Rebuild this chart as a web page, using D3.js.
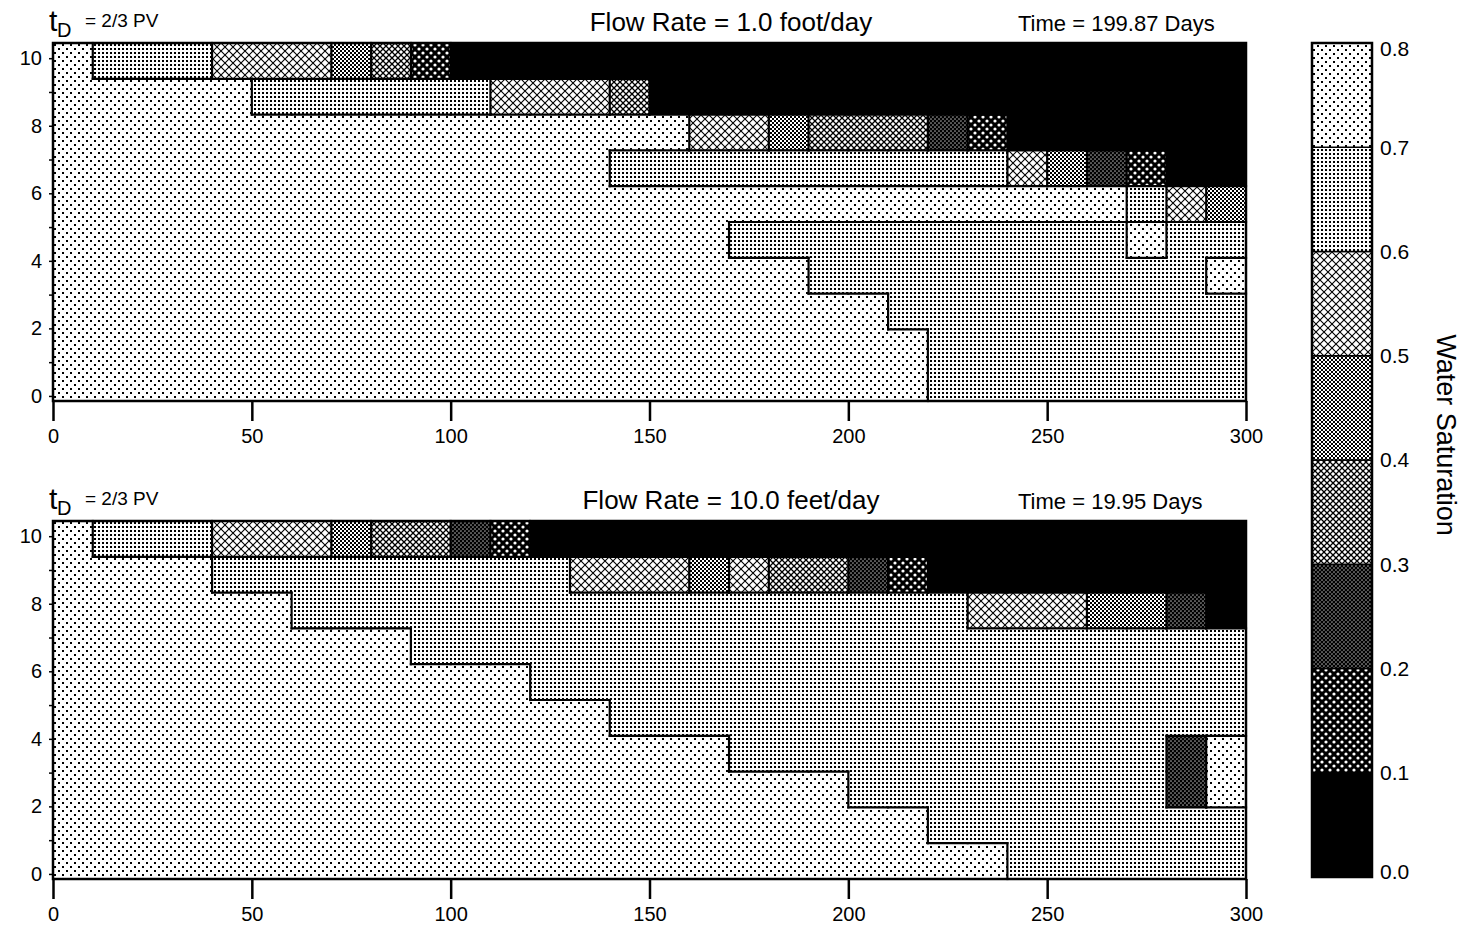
<!DOCTYPE html>
<html>
<head>
<meta charset="utf-8">
<script src="https://cdn.jsdelivr.net/npm/d3@7"></script>
<style>
body { margin: 0; background: #fff; }
text { font-family: "Liberation Sans", Arial, Helvetica, sans-serif; fill: #000; }
</style>
</head>
<body>
<svg width="1466" height="926"></svg>
<script>
// water saturation class of each block: 0 = 0.0-0.1, 1 = 0.1-0.2 ... 7 = 0.7-0.8
// one string per layer (layer 10 first), one char per 10 ft column
var gridSlow = [
  "766655543100000000000000000000",
  "777776666665553000000000000000",
  "777777777777777755433321000000",
  "777777777777776666666666542100",
  "777777777777777777777777777654",
  "777777777777777776666666666766",
  "777777777777777777766666666667",
  "777777777777777777777666666666",
  "777777777777777777777766666666",
  "777777777777777777777766666666"
];
var gridFast = [
  "766655543321000000000000000000",
  "777766666666655545332100000000",
  "777777666666666666666665554420",
  "777777777666666666666666666666",
  "777777777777666666666666666666",
  "777777777777776666666666666666",
  "777777777777777776666666666627",
  "777777777777777777776666666627",
  "777777777777777777777766666666",
  "777777777777777777777777666666"
];
var flowLabels = ["Flow Rate = 1.0 foot/day", "Flow Rate = 10.0 feet/day"];
var timeLabels = ["Time = 199.87 Days", "Time = 19.95 Days"];
var xTicks = [0, 50, 100, 150, 200, 250, 300];
var yTicks = [0, 1, 2, 3, 4, 5, 6, 7, 8, 9, 10];
var legendTicks = [0.0, 0.1, 0.2, 0.3, 0.4, 0.5, 0.6, 0.7, 0.8];

var svg = d3.select("svg");
var defs = svg.append("defs");

function addPattern(id, size, bg, draw) {
  var p = defs.append("pattern")
      .attr("id", id)
      .attr("patternUnits", "userSpaceOnUse")
      .attr("width", size)
      .attr("height", size);
  p.append("rect").attr("width", size).attr("height", size).attr("fill", bg);
  if (draw) draw(p, size);
}
function cross(p, s, sw) {
  p.append("path")
      .attr("d", "M0,0L" + s + "," + s + "M0," + s + "L" + s + ",0")
      .attr("stroke", "#000").attr("stroke-width", sw);
}
function dot(p, cx, cy, sz, col) {
  p.append("rect").attr("x", cx).attr("y", cy).attr("width", sz).attr("height", sz)
      .attr("fill", col).attr("shape-rendering", "crispEdges");
}

addPattern("sat0", 4, "#000");
addPattern("sat1", 8, "#000", function(p) {
  p.append("circle").attr("cx", 2).attr("cy", 2).attr("r", 1.6).attr("fill", "#fff");
  p.append("circle").attr("cx", 6).attr("cy", 6).attr("r", 1.6).attr("fill", "#fff");
});
addPattern("sat2", 4, "#fff", function(p, s) { cross(p, s, 1.6); });
addPattern("sat3", 6, "#fff", function(p, s) {
  cross(p, s, 1.3);
  p.append("circle").attr("cx", 3).attr("cy", 3).attr("r", 0.8).attr("fill", "#000");
});
addPattern("sat4", 4, "#fff", function(p, s) { cross(p, s, 1.0); });
addPattern("sat5", 8, "#fff", function(p, s) { cross(p, s, 1.1); });
addPattern("sat6", 4, "#fff", function(p) { dot(p, 1, 1, 2, "#000"); });
addPattern("sat7", 8, "#fff", function(p) {
  dot(p, 1, 1, 2, "#000");
  dot(p, 5, 5, 2, "#000");
});

var left = 53, w = 1193, h = 358;
var tops = [43, 521];
var grids = [gridSlow, gridFast];

var x = d3.scaleLinear().domain([0, 300]).range([0, w]);
var rowY = d3.scaleLinear().domain([0, 10]).range([h, 0]);
var yLab = d3.scaleLinear().domain([-0.15, 10.45]).range([h, 0]);

grids.forEach(function(grid, i) {
  var g = svg.append("g").attr("transform", "translate(" + left + "," + tops[i] + ")");

  var cells = [];
  grid.forEach(function(row, k) {
    var layer = 9 - k;
    row.split("").forEach(function(ch, c) {
      cells.push({layer: layer, col: c, cls: +ch});
    });
  });
  var cls = function(layer, col) { return +grid[9 - layer][col]; };

  g.selectAll(".cell")
    .data(cells)
    .enter().append("rect")
      .attr("class", "cell")
      .attr("x", function(d) { return x(d.col * 10); })
      .attr("y", function(d) { return rowY(d.layer + 1); })
      .attr("width", x(10) - x(0) + 0.6)
      .attr("height", rowY(0) - rowY(1) + 0.6)
      .attr("shape-rendering", "crispEdges")
      .attr("fill", function(d) { return "url(#sat" + d.cls + ")"; });

  // outline where the saturation class changes
  var segs = [];
  cells.forEach(function(d) {
    if (d.col < 29 && cls(d.layer, d.col + 1) !== d.cls)
      segs.push([x(d.col * 10 + 10), rowY(d.layer + 1), x(d.col * 10 + 10), rowY(d.layer)]);
    if (d.layer > 0 && cls(d.layer - 1, d.col) !== d.cls)
      segs.push([x(d.col * 10), rowY(d.layer), x(d.col * 10 + 10), rowY(d.layer)]);
  });
  g.selectAll(".edge")
    .data(segs)
    .enter().append("line")
      .attr("class", "edge")
      .attr("x1", function(d) { return d[0]; })
      .attr("y1", function(d) { return d[1]; })
      .attr("x2", function(d) { return d[2]; })
      .attr("y2", function(d) { return d[3]; })
      .attr("stroke", "#000")
      .attr("stroke-width", 2.2)
      .attr("stroke-linecap", "square");

  g.append("rect")
      .attr("width", w).attr("height", h)
      .attr("fill", "none").attr("stroke", "#000").attr("stroke-width", 2.5);

  var xa = g.append("g")
      .attr("transform", "translate(0," + h + ")")
      .call(d3.axisBottom(x).tickValues(xTicks).tickSize(20).tickSizeOuter(0).tickPadding(8));
  xa.select(".domain").remove();
  xa.selectAll(".tick line").attr("stroke-width", 2.5);
  xa.selectAll(".tick text").style("font-size", "20px").style("font-family", null);

  var ya = g.append("g")
      .call(d3.axisLeft(yLab).tickValues(yTicks).tickSize(4).tickPadding(7)
        .tickFormat(function(d) { return d % 2 === 0 ? d : ""; }));
  ya.select(".domain").remove();
  ya.selectAll(".tick line").attr("stroke-width", 1.5);
  ya.selectAll(".tick text").style("font-size", "20px").style("font-family", null);

  var off = tops[i] - 43;
  svg.append("text")
      .attr("x", 731).attr("y", 31 + off)
      .attr("text-anchor", "middle")
      .style("font-size", "26px")
      .text(flowLabels[i]);
  svg.append("text")
      .attr("x", 1018).attr("y", 31 + off)
      .style("font-size", "22px")
      .text(timeLabels[i]);
  svg.append("text")
      .attr("x", 49).attr("y", 31 + off)
      .style("font-size", "30px")
      .text("t");
  svg.append("text")
      .attr("x", 57).attr("y", 37 + off)
      .style("font-size", "20px")
      .text("D");
  svg.append("text")
      .attr("x", 85).attr("y", 27 + off)
      .style("font-size", "19px")
      .text("= 2/3 PV");
});

// legend bar
var leg = d3.scaleLinear().domain([0, 0.8]).range([877, 43]);
var lg = svg.append("g").attr("transform", "translate(1312,0)");
lg.selectAll(".band")
  .data(d3.range(8))
  .enter().append("rect")
    .attr("class", "band")
    .attr("x", 0)
    .attr("y", function(k) { return leg((k + 1) / 10); })
    .attr("width", 60)
    .attr("height", function(k) { return leg(k / 10) - leg((k + 1) / 10); })
    .attr("fill", function(k) { return "url(#sat" + k + ")"; })
    .attr("stroke", "#000")
    .attr("stroke-width", 1.5);
lg.append("rect")
    .attr("y", leg(0.8)).attr("width", 60).attr("height", leg(0) - leg(0.8))
    .attr("fill", "none").attr("stroke", "#000").attr("stroke-width", 2.5);
lg.selectAll(".lab")
  .data(legendTicks)
  .enter().append("text")
    .attr("class", "lab")
    .attr("x", 68)
    .attr("y", function(d) { return Math.min(872, Math.max(49, leg(d))); })
    .attr("dy", "0.35em")
    .style("font-size", "21px")
    .text(function(d) { return d.toFixed(1); });

svg.append("text")
    .attr("transform", "translate(1437,435) rotate(90)")
    .attr("text-anchor", "middle")
    .style("font-size", "27px")
    .text("Water Saturation");
</script>
</body>
</html>
